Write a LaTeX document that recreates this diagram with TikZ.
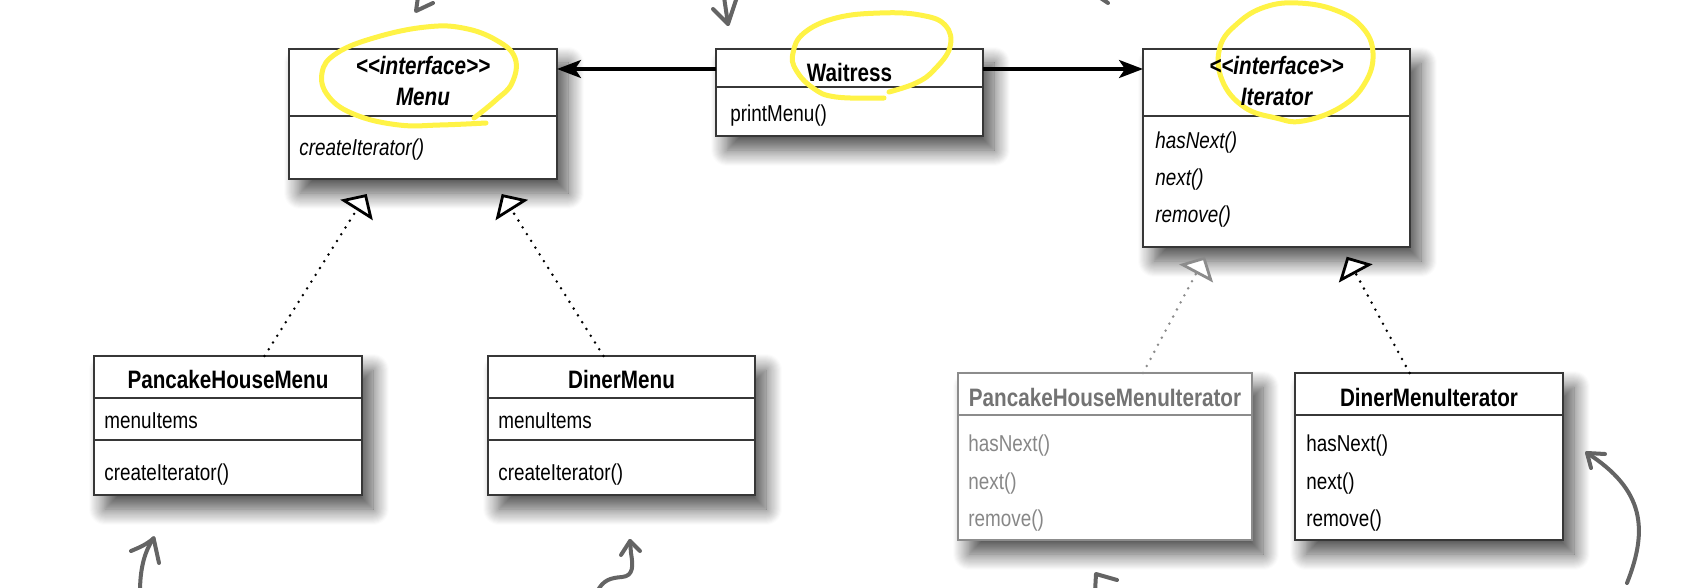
\documentclass[tikz,border=0pt]{standalone}
\usepackage{fontspec}
\setmainfont{Liberation Sans}[FakeStretch=0.82]
\usetikzlibrary{arrows.meta,fit,shadows.blur}

\definecolor{boxline}{RGB}{55,55,55}
\definecolor{greytext}{RGB}{115,115,115}
\definecolor{greymeth}{RGB}{135,135,135}
\definecolor{greyline}{RGB}{140,140,140}
\definecolor{marker}{RGB}{255,243,70}
\definecolor{pencil}{RGB}{100,100,100}

\newcommand\umlname{\fontsize{12.6}{15}\selectfont\bfseries}
\newcommand\umlmeth{\fontsize{11.5}{14}\selectfont}

\tikzset{
  umlbox/.style={draw=boxline, line width=0.7pt, fill=white, inner sep=0pt, outer sep=0pt,
    blur shadow={shadow xshift=5.5pt, shadow yshift=-7pt, shadow blur radius=8pt,
      shadow blur steps=16, shadow opacity=70}},
  divline/.style={draw=boxline, line width=0.7pt},
  cname/.style={font=\umlname, anchor=base, inner sep=0pt},
  cmeth/.style={font=\umlmeth, anchor=base west, inner sep=0pt},
  assoc/.style={line width=1.7pt, -{Stealth[length=12pt, width=9pt, inset=3pt]}},
  realize/.style={line width=1.4pt, line cap=round, dash pattern=on 0pt off 4pt,
    -{Triangle[open, fill=white, length=9.5pt, width=19pt, line width=1.4pt]}},
  hilite/.style={draw=marker, line width=2.5pt, line cap=round, line join=round},
  note/.style={draw=pencil, line width=2pt, line cap=round, line join=round},
}

\begin{document}
\begin{tikzpicture}[x=0.5pt, y=-0.5pt]
  \useasboundingbox (0,0) rectangle (1690,588);
  \clip (0,0) rectangle (1690,588);

  % class boxes
  \node[umlbox, fit={(289,49) (557,179)}] (menu) {};
  \node[umlbox, fit={(716,49) (983,136)}] (waitress) {};
  \node[umlbox, fit={(1143,49) (1410,247)}] (iter) {};
  \node[umlbox, fit={(94,356) (362,495)}] (phm) {};
  \node[umlbox, fit={(488,356) (755,495)}] (diner) {};
  \node[umlbox, draw=greyline, fit={(958,373) (1252,540)}] (phmi) {};
  \node[umlbox, fit={(1295,373) (1563,540)}] (dineri) {};

  \draw[divline] ([yshift=-33.5pt]menu.north west) -- ([yshift=-33.5pt]menu.north east);
  \draw[divline] ([yshift=-19pt]waitress.north west) -- ([yshift=-19pt]waitress.north east);
  \draw[divline] ([yshift=-33.5pt]iter.north west) -- ([yshift=-33.5pt]iter.north east);
  \draw[divline] ([yshift=-21pt]phm.north west) -- ([yshift=-21pt]phm.north east);
  \draw[divline] ([yshift=-42pt]phm.north west) -- ([yshift=-42pt]phm.north east);
  \draw[divline] ([yshift=-21pt]diner.north west) -- ([yshift=-21pt]diner.north east);
  \draw[divline] ([yshift=-42pt]diner.north west) -- ([yshift=-42pt]diner.north east);
  \draw[divline, draw=greyline] ([yshift=-21pt]phmi.north west) -- ([yshift=-21pt]phmi.north east);
  \draw[divline] ([yshift=-21pt]dineri.north west) -- ([yshift=-21pt]dineri.north east);

  % highlighter
  \draw[hilite] plot[smooth, tension=0.7] coordinates {(486,123) (440,125) (399,125) (356,115)
    (329,97) (322,73) (337,53) (377,37) (426,27) (463,28) (496,40) (515,58) (512,83) (496,100) (474,118)};
  \draw[hilite] plot[smooth, tension=0.7] coordinates {(884,98) (836,97) (813,88) (796,70)
    (793,53) (804,33) (836,18) (880,13) (920,15) (945,25) (950,47) (934,70) (916,83) (889,92)};
  \draw[hilite] plot[smooth cycle, tension=0.7] coordinates {(1220,47) (1222,80) (1244,107)
    (1276,118) (1303,121) (1341,107) (1365,83) (1373,53) (1362,27) (1335,10) (1298,3) (1265,7) (1238,23)};

  % texts
  \node[cname, font=\umlname\itshape] (menut1) at (423,75) {<\kern0pt<interface>\kern0pt>};
  \node[cname, font=\umlname\itshape] (menut2) at (423,106) {Menu};
  \node[cmeth, font=\umlmeth\itshape] (menum1) at (299,156) {createIterator()};

  \node[cname] (waitt) at (849.5,82) {Waitress};
  \node[cmeth] (waitm1) at (730,122) {printMenu()};

  \node[cname, font=\umlname\itshape] (itert1) at (1276.5,75) {<\kern0pt<interface>\kern0pt>};
  \node[cname, font=\umlname\itshape] (itert2) at (1276.5,106) {Iterator};
  \node[cmeth, font=\umlmeth\itshape] (iterm1) at (1155,149) {hasNext()};
  \node[cmeth, font=\umlmeth\itshape] (iterm2) at (1155,186) {next()};
  \node[cmeth, font=\umlmeth\itshape] (iterm3) at (1155,223) {remove()};

  \node[cname] (phmt) at (228,388) {PancakeHouseMenu};
  \node[cmeth] (phmm1) at (104,428) {menuItems};
  \node[cmeth] (phmm2) at (104,480) {createIterator()};

  \node[cname] (dinert) at (621.5,388) {DinerMenu};
  \node[cmeth] (dinerm1) at (498,428) {menuItems};
  \node[cmeth] (dinerm2) at (498,480) {createIterator()};

  \node[cname, text=greytext] (phmit) at (1105,406) {PancakeHouseMenuIterator};
  \node[cmeth, text=greymeth] (phmim1) at (968,451) {hasNext()};
  \node[cmeth, text=greymeth] (phmim2) at (968,489) {next()};
  \node[cmeth, text=greymeth] (phmim3) at (968,526) {remove()};

  \node[cname] (dinerit) at (1429,406) {DinerMenuIterator};
  \node[cmeth] (dinerim1) at (1306,451) {hasNext()};
  \node[cmeth] (dinerim2) at (1306,489) {next()};
  \node[cmeth] (dinerim3) at (1306,526) {remove()};

  % associations
  \draw[assoc] ([yshift=-10pt]waitress.north west) -- ([yshift=-10pt]menu.north east);
  \draw[assoc] ([yshift=-10pt]waitress.north east) -- ([yshift=-10pt]iter.north west);

  % realizations
  \coordinate (menutipA) at (366.7,194);
  \coordinate (menutipB) at (501.7,194);
  \coordinate (itertipA) at (1205,256.7);
  \coordinate (itertipB) at (1346.7,256.7);
  \draw[realize, draw=black] ([xshift=18.2pt]phm.north) -- (menutipA);
  \draw[realize, draw=black] ([xshift=-9pt]diner.north) -- (menutipB);
  \draw[realize, draw=greyline] ([xshift=19pt]phmi.north) -- (itertipA);
  \draw[realize, draw=black] ([xshift=-9.7pt]dineri.north) -- (itertipB);

  % pencil arrows
  \draw[note] (433,3) -- (416,11) -- (418,-3);
  \draw[note] (713,9) -- (728,24) -- (724,-3);
  \draw[note] (737,-3) -- (728,24);
  \draw[note] (1099,-3) -- (1108,3);
  \draw[note] (140,592) .. controls (140,570) and (144,552) .. (153.6,538.3);
  \draw[note] (131,551) .. controls (138,548) and (146,545) .. (153.6,538.3) -- (159,563);
  \draw[note] (597,592) .. controls (603,580) and (610,578) .. (622,577)
    .. controls (634,576) and (633,565) .. (631,553) -- (630,541);
  \draw[note] (621,555) -- (630,541) -- (640,551);
  \draw[note] (1095,592) -- (1096,574) -- (1117,580);
  \draw[note] (1627,583) .. controls (1648,530) and (1645,490) .. (1587,453);
  \draw[note] (1605,454) -- (1587,453) -- (1591,468);
\end{tikzpicture}
\end{document}
